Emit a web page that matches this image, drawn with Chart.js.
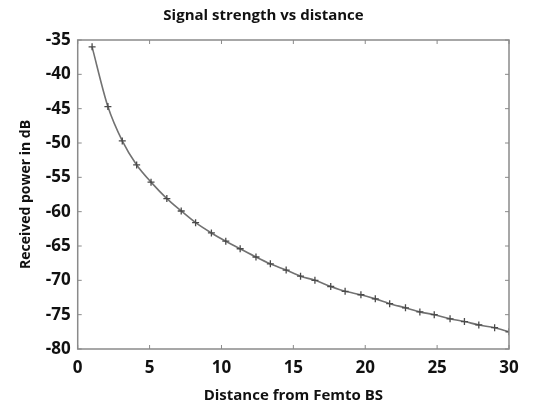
<!DOCTYPE html>
<html>
<head>
<meta charset="utf-8">
<script src="https://cdn.jsdelivr.net/npm/chart.js@4.4.0/dist/chart.umd.min.js"></script>
<style>
  html, body { margin: 0; padding: 0; background: #fff; }
  #wrap { width: 535px; height: 406px; }
</style>
</head>
<body>
<div id="wrap"><canvas id="chart" width="535" height="406"></canvas></div>
<script>
// distance from femto BS
const distance = [1.0, 2.1, 3.1, 4.1, 5.1, 6.2, 7.2, 8.2, 9.3, 10.3,
  11.3, 12.4, 13.4, 14.5, 15.5, 16.5, 17.6, 18.6, 19.7, 20.7,
  21.7, 22.8, 23.8, 24.8, 25.9, 26.9, 27.9, 29.0, 30.0];
// received power in dB
const power = [-36.0, -44.7, -49.7, -53.2, -55.7, -58.1, -59.9, -61.6, -63.1, -64.3,
  -65.4, -66.6, -67.6, -68.5, -69.4, -70.0, -70.9, -71.6, -72.1, -72.7,
  -73.4, -74.0, -74.6, -75.0, -75.6, -76.0, -76.5, -76.9, -77.5];
const xTicks = [0, 5, 10, 15, 20, 25, 30];
const yTicks = [-35, -40, -45, -50, -55, -60, -65, -70, -75, -80];

const axisColor = "#8a8a8a";
const fontFam = "'Open Sans', sans-serif";

// matlab style box with inward ticks
const boxPlugin = {
  id: "box",
  afterDraw(chart) {
    const ctx = chart.ctx;
    const a = chart.chartArea;
    const xs = chart.scales.x;
    const ys = chart.scales.y;
    ctx.save();
    ctx.strokeStyle = axisColor;
    ctx.lineWidth = 1.5;
    ctx.strokeRect(a.left, a.top, a.right - a.left, a.bottom - a.top);
    ctx.lineWidth = 1;
    ctx.beginPath();
    xTicks.forEach(v => {
      const px = xs.getPixelForValue(v);
      ctx.moveTo(px, a.bottom); ctx.lineTo(px, a.bottom - 4);
      ctx.moveTo(px, a.top); ctx.lineTo(px, a.top + 4);
    });
    yTicks.forEach(v => {
      const py = ys.getPixelForValue(v);
      ctx.moveTo(a.left, py); ctx.lineTo(a.left + 4, py);
      ctx.moveTo(a.right, py); ctx.lineTo(a.right - 4, py);
    });
    ctx.stroke();
    ctx.restore();
  }
};

new Chart(document.getElementById("chart"), {
  type: "line",
  data: {
    datasets: [{
      data: distance.map((d, i) => ({ x: d, y: power[i] })),
      borderColor: "#727272",
      borderWidth: 1.6,
      tension: 0.3,
      pointStyle: "cross",
      pointRadius: 3.5,
      pointBorderWidth: 1.3,
      pointBorderColor: "#4a4a4a",
      fill: false
    }]
  },
  options: {
    responsive: false,
    animation: false,
    layout: { padding: { left: 18, right: 26, top: 0, bottom: 3 } },
    plugins: {
      legend: { display: false },
      tooltip: { enabled: false },
      title: {
        display: true,
        text: "Signal strength vs distance",
        color: "#111",
        font: { family: fontFam, size: 15, weight: "bold" },
        padding: { top: 7, bottom: 15 }
      }
    },
    scales: {
      x: {
        type: "linear",
        min: 0,
        max: 30,
        afterBuildTicks: s => { s.ticks = xTicks.map(v => ({ value: v })); },
        grid: { display: false, drawTicks: false },
        border: { display: false },
        ticks: {
          color: "#111",
          padding: 11,
          maxRotation: 0,
          font: { family: fontFam, size: 17, weight: "bold", lineHeight: 1 }
        },
        title: {
          display: true,
          text: "Distance from Femto BS",
          color: "#111",
          padding: { top: 0, bottom: 0 },
          font: { family: fontFam, size: 15, weight: "bold", lineHeight: 1 }
        }
      },
      y: {
        min: -80,
        max: -35,
        afterBuildTicks: s => { s.ticks = yTicks.map(v => ({ value: v })); },
        grid: { display: false, drawTicks: false },
        border: { display: false },
        ticks: {
          color: "#111",
          padding: 7,
          font: { family: fontFam, size: 17, weight: "bold" }
        },
        title: {
          display: true,
          text: "Received power in dB",
          color: "#111",
          padding: { top: 0, bottom: 4 },
          font: { family: fontFam, size: 14, weight: "bold" }
        }
      }
    }
  },
  plugins: [boxPlugin]
});
</script>
</body>
</html>
